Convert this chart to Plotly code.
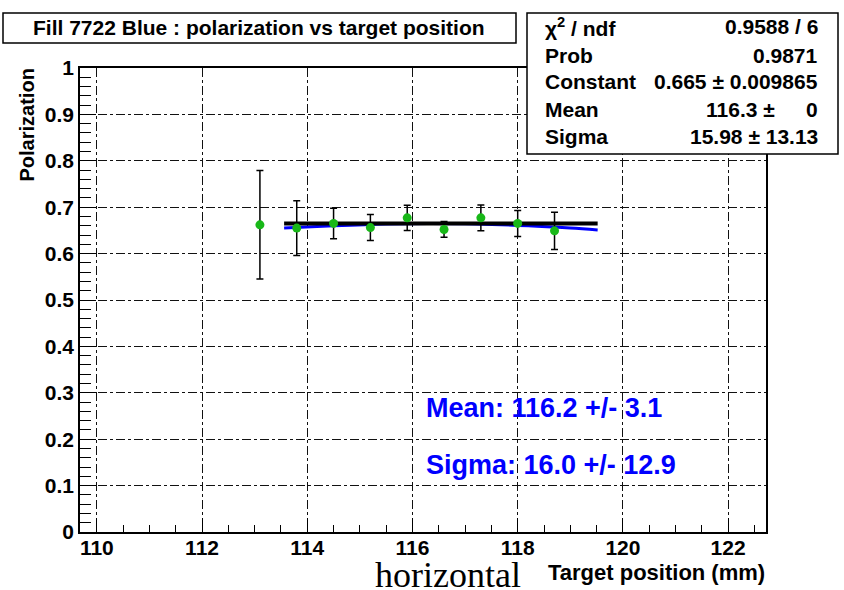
import plotly.graph_objects as go

# ---- data ----
pos_mm = [113.1, 113.8, 114.5, 115.2, 115.9, 116.6, 117.3, 118.0, 118.7]
polar = [0.662, 0.655, 0.665, 0.656, 0.677, 0.652, 0.677, 0.665, 0.649]
polar_err = [0.117, 0.059, 0.033, 0.028, 0.027, 0.017, 0.028, 0.028, 0.040]

const_x = [113.56, 119.52]
const_y = [0.665, 0.665]

gaus_x = [113.56, 114.5, 115.5, 116.3, 117.2, 118.2, 119.0, 119.52]
gaus_y = [0.655, 0.660, 0.664, 0.665, 0.664, 0.660, 0.655, 0.651]

x_ticks = [110, 112, 114, 116, 118, 120, 122]
y_ticks = [0, 0.1, 0.2, 0.3, 0.4, 0.5, 0.6, 0.7, 0.8, 0.9, 1]

title_text = "Fill 7722 Blue : polarization vs target position"
stats_labels = ["χ<sup>2</sup> / ndf", "Prob", "Constant", "Mean", "Sigma"]
stats_values = ["0.9588 / 6", "0.9871", "0.665 ± 0.009865", "116.3 ±", "15.98 ± 13.13"]
mean_text = "Mean: 116.2 +/- 3.1"
sigma_text = "Sigma: 16.0 +/- 12.9"

# ---- layout geometry (pixels) ----
W, H = 844, 590
L, R, T, B = 80, 766, 68, 532
PW, PH = R - L, B - T


def xp(px):
    return (px - L) / PW


def yp(py):
    return (B - py) / PH


FONT = "Liberation Sans, Arial, Helvetica, sans-serif"

fig = go.Figure()

fig.add_trace(go.Scatter(
    x=gaus_x, y=gaus_y, mode="lines", line=dict(color="#0000ff", width=3, shape="spline"),
    showlegend=False, hoverinfo="skip"))
fig.add_trace(go.Scatter(
    x=const_x, y=const_y, mode="lines", line=dict(color="black", width=4),
    showlegend=False, hoverinfo="skip"))
fig.add_trace(go.Scatter(
    x=pos_mm, y=polar, mode="markers",
    marker=dict(color="#18b818", size=9),
    error_y=dict(type="data", array=polar_err, color="black", thickness=1.5, width=3.5),
    showlegend=False))

axis_common = dict(
    showline=True, linecolor="black", linewidth=1.5, mirror=True,
    ticks="inside", tickcolor="black", tickwidth=1.2,
    showgrid=True, gridcolor="#111", gridwidth=1.2, griddash="dashdot",
    zeroline=False,
    tickfont=dict(family=FONT, size=21, color="black", weight="bold"),
)

fig.update_xaxes(
    range=[109.68, 122.72], tickvals=x_ticks, ticklen=14,
    minor=dict(dtick=0.5, tick0=110, ticks="inside", ticklen=7, tickcolor="black", showgrid=False),
    ticklabelstandoff=-4,
    **axis_common)
fig.update_yaxes(
    range=[0, 1.0], tickvals=y_ticks, ticklen=16,
    minor=dict(dtick=0.02, tick0=0, ticks="inside", ticklen=11, tickcolor="black", showgrid=False),
    **axis_common)

shapes = [
    dict(type="rect", xref="paper", yref="paper", x0=xp(3), x1=xp(516), y0=yp(13), y1=yp(43),
         line=dict(color="black", width=1.5), fillcolor="white", layer="above"),
    dict(type="rect", xref="paper", yref="paper", x0=xp(527), x1=xp(838), y0=yp(13), y1=yp(154),
         line=dict(color="black", width=1.5), fillcolor="white", layer="above"),
]

ann = []
ann.append(dict(text=title_text, x=xp(259), y=yp(28), xref="paper", yref="paper",
                xanchor="center", yanchor="middle", showarrow=False,
                font=dict(family=FONT, size=21, color="black", weight="bold")))
rows_y = [27, 55, 82, 109, 137]
for lab, val, ry in zip(stats_labels, stats_values, rows_y):
    ann.append(dict(text=lab, x=xp(543), y=yp(ry), xref="paper", yref="paper",
                    xanchor="left", yanchor="middle", showarrow=False,
                    font=dict(family=FONT, size=21, color="black", weight="bold")))
    rx = 777 if val.endswith("±") else 820
    ann.append(dict(text=val, x=xp(rx), y=yp(ry), xref="paper", yref="paper",
                    xanchor="right", yanchor="middle", showarrow=False,
                    font=dict(family=FONT, size=21, color="black", weight="bold")))
ann.append(dict(text="0", x=xp(820), y=yp(109), xref="paper", yref="paper",
                xanchor="right", yanchor="middle", showarrow=False,
                font=dict(family=FONT, size=21, color="black", weight="bold")))

ann.append(dict(text=mean_text, x=xp(424), y=yp(408), xref="paper", yref="paper",
                xanchor="left", yanchor="middle", showarrow=False,
                font=dict(family=FONT, size=27, color="#0000ff", weight="bold")))
ann.append(dict(text=sigma_text, x=xp(424), y=yp(465), xref="paper", yref="paper",
                xanchor="left", yanchor="middle", showarrow=False,
                font=dict(family=FONT, size=27, color="#0000ff", weight="bold")))

ann.append(dict(text="Polarization", x=xp(27), y=yp(67), xref="paper", yref="paper",
                xanchor="center", yanchor="top", textangle=-90, showarrow=False,
                font=dict(family=FONT, size=20, color="black", weight="bold")))
ann.append(dict(text="Target position (mm)", x=xp(767), y=yp(572), xref="paper", yref="paper",
                xanchor="right", yanchor="middle", showarrow=False,
                font=dict(family=FONT, size=22, color="black", weight="bold")))
ann.append(dict(text="horizontal", x=xp(448), y=yp(575), xref="paper", yref="paper",
                xanchor="center", yanchor="middle", showarrow=False,
                font=dict(family="Liberation Serif, Times New Roman, serif", size=36, color="black")))

fig.update_layout(
    width=W, height=H,
    margin=dict(l=L, r=W - R, t=T, b=H - B, pad=0),
    paper_bgcolor="white", plot_bgcolor="white",
    shapes=shapes, annotations=ann,
    showlegend=False,
)

fig.write_html("out.html", config={"displayModeBar": False},
               post_script="document.body.style.margin='0px';")
